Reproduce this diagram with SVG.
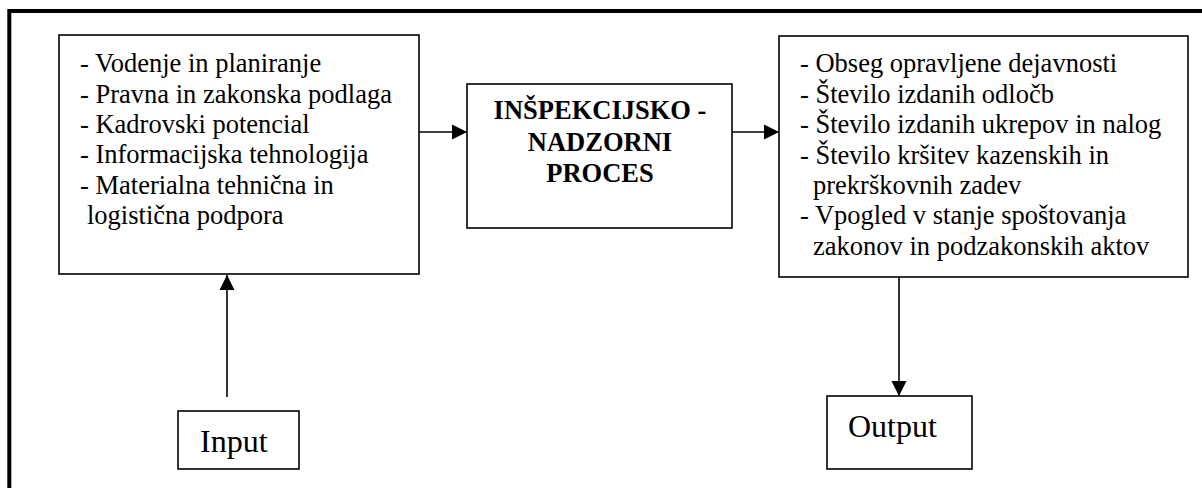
<svg xmlns="http://www.w3.org/2000/svg" width="1202" height="488" viewBox="0 0 1202 488">
<style>
.box{fill:#fff;stroke:#000;stroke-width:1.6}
.t{font-family:"Liberation Serif","Times New Roman",serif;font-size:26.5px;fill:#000}
.b{font-family:"Liberation Serif","Times New Roman",serif;font-size:26.5px;font-weight:bold;fill:#000;text-anchor:middle}
.io{font-family:"Liberation Serif","Times New Roman",serif;font-size:32px;fill:#000}
.ln{stroke:#000;stroke-width:1.6;fill:none}
</style>
<defs>
<marker id="ah" markerUnits="userSpaceOnUse" markerWidth="16" markerHeight="16" refX="15" refY="8" orient="auto">
<path d="M0,0.5 L15,8 L0,15.5 Z" fill="#000"/>
</marker>
</defs>
<rect width="1202" height="488" fill="#fff"/>
<path d="M9.3,488 V11 H1202" fill="none" stroke="#000" stroke-width="4"/>
<g id="inputs">
<rect class="box" x="59" y="35" width="360" height="239"/>
<text class="t" x="80" y="72">- Vodenje in planiranje</text>
<text class="t" x="80" y="103">- Pravna in zakonska podlaga</text>
<text class="t" x="80" y="133">- Kadrovski potencial</text>
<text class="t" x="80" y="163">- Informacijska tehnologija</text>
<text class="t" x="80" y="194">- Materialna tehnična in</text>
<text class="t" x="87" y="224">logistična podpora</text>
</g>
<g id="process">
<rect class="box" x="467" y="84" width="265" height="144"/>
<text class="b" x="600" y="119">INŠPEKCIJSKO -</text>
<text class="b" x="600" y="151">NADZORNI</text>
<text class="b" x="600" y="182">PROCES</text>
</g>
<g id="outputs">
<rect class="box" x="779" y="36" width="409" height="241"/>
<text class="t" x="800" y="72">- Obseg opravljene dejavnosti</text>
<text class="t" x="800" y="103">- Število izdanih odločb</text>
<text class="t" x="800" y="133">- Število izdanih ukrepov in nalog</text>
<text class="t" x="800" y="164">- Število kršitev kazenskih in</text>
<text class="t" x="813" y="194">prekrškovnih zadev</text>
<text class="t" x="800" y="224">- Vpogled v stanje spoštovanja</text>
<text class="t" x="813" y="255">zakonov in podzakonskih aktov</text>
</g>
<g id="input">
<rect class="box" x="178" y="411" width="121" height="58"/>
<text class="io" x="200" y="452">Input</text>
</g>
<g id="output">
<rect class="box" x="827" y="396" width="145" height="73"/>
<text class="io" x="848" y="437">Output</text>
</g>
<g id="connectors">
<line class="ln" x1="419" y1="132" x2="467" y2="132" marker-end="url(#ah)"/>
<line class="ln" x1="732" y1="132" x2="779" y2="132" marker-end="url(#ah)"/>
<line class="ln" x1="227" y1="397" x2="227" y2="275" marker-end="url(#ah)"/>
<line class="ln" x1="899" y1="277" x2="899" y2="396" marker-end="url(#ah)"/>
</g>
</svg>
